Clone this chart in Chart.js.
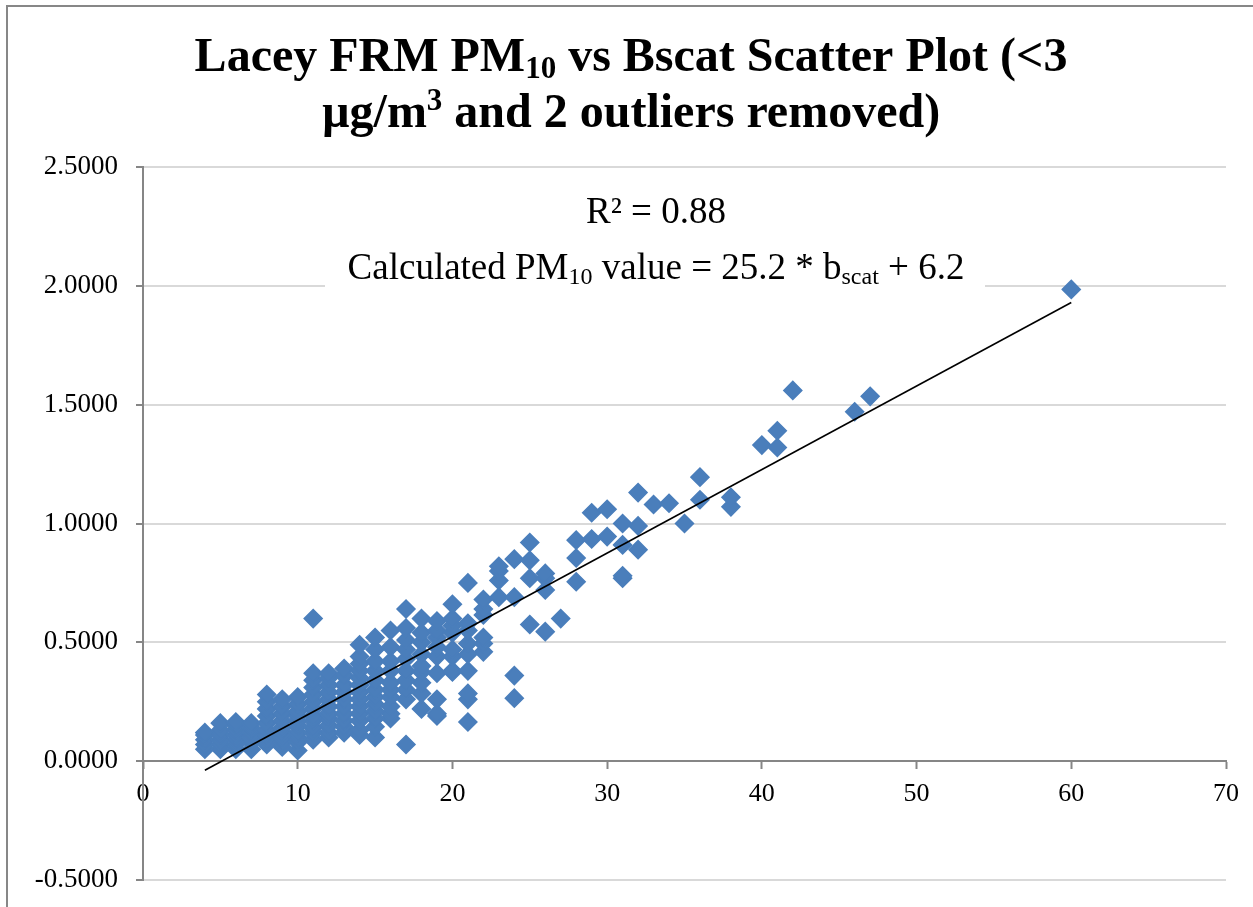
<!DOCTYPE html>
<html>
<head>
<meta charset="utf-8">
<script src="https://cdn.jsdelivr.net/npm/chart.js@4.4.0/dist/chart.umd.min.js"></script>
<style>
  html, body { margin: 0; padding: 0; background: #fff; }
  #wrap { position: relative; width: 1253px; height: 907px; }
</style>
</head>
<body>
<div id="wrap"><canvas id="myChart" width="1253" height="907"></canvas></div>
<script>
// PM10 (x) and bscat (y)
const pmValues = [
  4, 4, 4, 4, 4,
  5, 5, 5, 5, 5, 5,
  6, 6, 6, 6, 6, 6, 6,
  7, 7, 7, 7, 7, 7,
  8, 8, 8, 8, 8, 8, 8, 8, 8,
  9, 9, 9, 9, 9, 9, 9, 9, 9,
  10, 10, 10, 10, 10, 10, 10, 10, 10, 10,
  11, 11, 11, 11, 11, 11, 11, 11, 11, 11, 11, 11,
  12, 12, 12, 12, 12, 12, 12, 12, 12, 12, 12,
  13, 13, 13, 13, 13, 13, 13, 13, 13, 13,
  14, 14, 14, 14, 14, 14, 14, 14, 14, 14, 14, 14, 14,
  15, 15, 15, 15, 15, 15, 15, 15, 15, 15, 15, 15,
  16, 16, 16, 16, 16, 16, 16, 16, 16, 16,
  17, 17, 17, 17, 17, 17, 17, 17, 17, 17,
  18, 18, 18, 18, 18, 18, 18, 18, 18,
  19, 19, 19, 19, 19, 19, 19, 19, 19,
  20, 20, 20, 20, 20, 20, 20, 20,
  21, 21, 21, 21, 21, 21, 21, 21, 21,
  22, 22, 22, 22, 22, 22,
  23, 23, 23, 23,
  24, 24, 24, 24,
  25, 25, 25, 25,
  26, 26, 26, 26,
  27,
  28, 28, 28,
  29, 29,
  30, 30,
  31, 31, 31, 31,
  32, 32, 32,
  33, 34, 35,
  36, 36,
  38, 38,
  40, 41, 41, 42,
  46, 47, 60
];
const bscatValues = [
  0.05, 0.07, 0.09, 0.11, 0.12,
  0.05, 0.07, 0.09, 0.11, 0.13, 0.16,
  0.05, 0.07, 0.09, 0.11, 0.13, 0.15, 0.165,
  0.05, 0.08, 0.10, 0.12, 0.14, 0.16,
  0.07, 0.09, 0.11, 0.13, 0.16, 0.19, 0.22, 0.25, 0.28,
  0.06, 0.08, 0.10, 0.12, 0.14, 0.17, 0.20, 0.23, 0.26,
  0.045, 0.08, 0.10, 0.12, 0.15, 0.17, 0.19, 0.21, 0.24, 0.27,
  0.09, 0.12, 0.14, 0.17, 0.19, 0.22, 0.25, 0.28, 0.31, 0.34, 0.37, 0.60,
  0.10, 0.12, 0.15, 0.18, 0.20, 0.23, 0.26, 0.29, 0.32, 0.35, 0.37,
  0.12, 0.145, 0.17, 0.20, 0.23, 0.26, 0.29, 0.32, 0.36, 0.39,
  0.11, 0.13, 0.17, 0.20, 0.23, 0.26, 0.29, 0.32, 0.35, 0.38, 0.41, 0.44, 0.49,
  0.10, 0.145, 0.18, 0.21, 0.24, 0.27, 0.30, 0.34, 0.38, 0.42, 0.47, 0.52,
  0.18, 0.20, 0.23, 0.27, 0.30, 0.33, 0.38, 0.42, 0.48, 0.55,
  0.07, 0.26, 0.30, 0.34, 0.38, 0.43, 0.47, 0.51, 0.56, 0.64,
  0.22, 0.285, 0.33, 0.375, 0.40, 0.45, 0.50, 0.54, 0.60,
  0.19, 0.20, 0.26, 0.37, 0.44, 0.48, 0.52, 0.55, 0.59,
  0.375, 0.38, 0.44, 0.47, 0.54, 0.57, 0.60, 0.66,
  0.165, 0.26, 0.285, 0.38, 0.45, 0.495, 0.55, 0.58, 0.75,
  0.46, 0.495, 0.52, 0.615, 0.64, 0.68,
  0.69, 0.76, 0.80, 0.82,
  0.265, 0.36, 0.69, 0.85,
  0.575, 0.77, 0.845, 0.92,
  0.545, 0.72, 0.77, 0.79,
  0.60,
  0.755, 0.855, 0.93,
  0.935, 1.045,
  0.945, 1.06,
  0.77, 0.78, 0.91, 1.0,
  0.89, 0.99, 1.13,
  1.08, 1.085, 1.0,
  1.10, 1.195,
  1.07, 1.11,
  1.33, 1.32, 1.39, 1.56,
  1.47, 1.535, 1.985
];
// trend line end points as drawn
const trendX = [4, 60];
const trendY = [-0.038, 1.93];

const xMin = 0, xMax = 70, xStep = 10;
const yMin = -0.5, yMax = 2.5, yStep = 0.5;

const titleLines = [
  [{ t: 'Lacey FRM PM' }, { t: '10', sub: true }, { t: ' vs Bscat Scatter Plot (<3' }],
  [{ t: 'µg/m' }, { t: '3', sup: true }, { t: ' and 2 outliers removed)' }]
];
const fitLines = [
  [{ t: 'R² = 0.88' }],
  [{ t: 'Calculated PM' }, { t: '10', sub: true }, { t: ' value = 25.2 * b' }, { t: 'scat', sub: true }, { t: ' + 6.2' }]
];

const SERIF = '"Liberation Serif", "Times New Roman", serif';

function runFont(r, size, weight) {
  const s = (r.sub || r.sup) ? Math.round(size * 0.65) : size;
  return weight + ' ' + s + 'px ' + SERIF;
}

function drawRuns(ctx, runs, cx, baseline, size, weight) {
  const widths = runs.map(r => { ctx.font = runFont(r, size, weight); return ctx.measureText(r.t).width; });
  const total = widths.reduce((a, b) => a + b, 0);
  let x = cx - total / 2;
  runs.forEach((r, i) => {
    ctx.font = runFont(r, size, weight);
    let off = 0;
    if (r.sub) off = size * 0.14;
    if (r.sup) off = -size * 0.36;
    ctx.fillText(r.t, x, baseline + off);
    x += widths[i];
  });
}

const decorPlugin = {
  id: 'decor',
  beforeDraw(chart) {
    const ctx = chart.ctx;
    ctx.save();
    ctx.fillStyle = '#fff';
    ctx.fillRect(0, 0, chart.width, chart.height);
    // outer chart border (runs past the right and bottom edges)
    ctx.strokeStyle = '#878787';
    ctx.lineWidth = 2;
    ctx.beginPath();
    ctx.moveTo(7, chart.height + 5);
    ctx.lineTo(7, 6);
    ctx.lineTo(chart.width + 5, 6);
    ctx.stroke();
    // title
    ctx.fillStyle = '#000';
    ctx.textAlign = 'left';
    ctx.textBaseline = 'alphabetic';
    drawRuns(ctx, titleLines[0], 631, 71, 48, 'bold');
    drawRuns(ctx, titleLines[1], 631, 127, 48, 'bold');
    ctx.restore();
  },
  beforeDatasetsDraw(chart) {
    const ctx = chart.ctx;
    ctx.save();
    ctx.fillStyle = '#fff';
    ctx.fillRect(325, 180, 660, 116);
    ctx.fillStyle = '#000';
    ctx.textAlign = 'left';
    ctx.textBaseline = 'alphabetic';
    drawRuns(ctx, fitLines[0], 656, 223, 37, 'normal');
    drawRuns(ctx, fitLines[1], 656, 279, 37, 'normal');
    ctx.restore();
  }
};

const points = pmValues.map((x, i) => ({ x: x, y: bscatValues[i] }));
const trend = trendX.map((x, i) => ({ x: x, y: trendY[i] }));

const ctx = document.getElementById('myChart').getContext('2d');
const myChart = new Chart(ctx, {
  type: 'scatter',
  data: {
    datasets: [
      {
        label: 'Trend',
        data: trend,
        showLine: true,
        borderColor: '#000',
        borderWidth: 1.6,
        pointRadius: 0,
        order: 0
      },
      {
        label: 'Bscat',
        data: points,
        pointStyle: 'rectRot',
        pointRadius: 9,
        borderWidth: 1.5,
        backgroundColor: '#4a7ebb',
        borderColor: '#4a7ebb',
        order: 1
      }
    ]
  },
  options: {
    responsive: false,
    animation: false,
    layout: { padding: { left: 0, top: 167, right: 27, bottom: 27 } },
    plugins: {
      legend: { display: false },
      tooltip: { enabled: false },
      title: { display: false }
    },
    scales: {
      x: {
        type: 'linear',
        position: { y: 0 },
        min: xMin,
        max: xMax,
        ticks: {
          stepSize: xStep,
          color: '#000',
          padding: 10,
          maxRotation: 0,
          font: { family: SERIF, size: 26 }
        },
        grid: { drawOnChartArea: false, tickColor: '#868686', tickLength: 7, tickWidth: 2 },
        border: { color: '#868686', width: 2 },
        afterFit: s => { s.height = 0; s.paddingLeft = 0; s.paddingRight = 0; }
      },
      y: {
        min: yMin,
        max: yMax,
        ticks: {
          stepSize: yStep,
          color: '#000',
          padding: 18,
          font: { family: SERIF, size: 27 },
          callback: v => v.toFixed(4)
        },
        grid: { color: '#d9d9d9', lineWidth: 2, tickColor: '#868686', tickLength: 7 },
        border: { color: '#868686', width: 2 },
        afterFit: s => { s.width = 143; s.paddingTop = 0; s.paddingBottom = 0; }
      }
    }
  },
  plugins: [decorPlugin]
});
</script>
</body>
</html>
